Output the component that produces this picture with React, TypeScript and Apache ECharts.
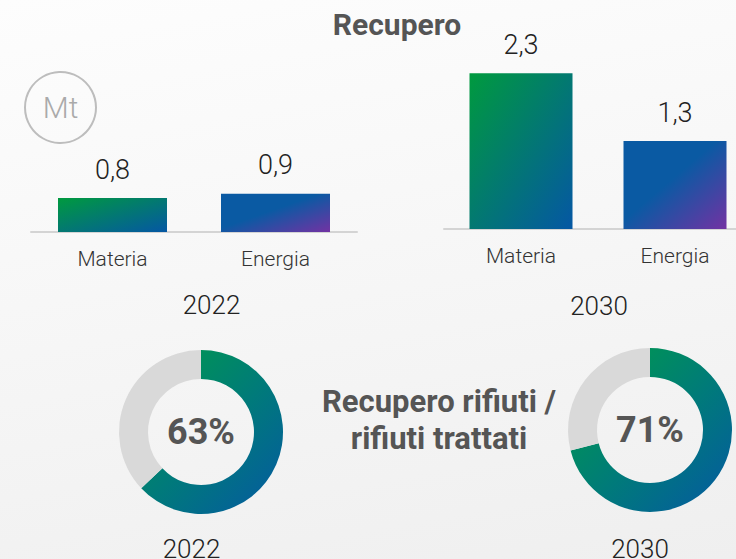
import React, { useEffect, useRef } from "react";
import * as echarts from "echarts";

const categories = ["Materia", "Energia"];
const years = ["2022", "2030"];
const recupero2022 = [0.8, 0.9];
const recupero2030 = [2.3, 1.3];
const ratioPercent = [63, 71];
const titleText = "Recupero";
const ratioTitle = "Recupero rifiuti /\nrifiuti trattati";
const unitText = "Mt";

const FONT = "Roboto, 'Noto Sans', sans-serif";

const materiaGrad = new echarts.graphic.LinearGradient(0, 0, 1, 1, [
  { offset: 0, color: "#009a3e" },
  { offset: 1, color: "#0557a4" },
]);
const energiaGrad = new echarts.graphic.LinearGradient(0, 0, 1, 1, [
  { offset: 0, color: "#0a5aa3" },
  { offset: 0.45, color: "#0a5aa3" },
  { offset: 1, color: "#7232a3" },
]);
const barColors = [materiaGrad, energiaGrad];

function donutGrad(cx: number, cy: number, r: number) {
  return {
    type: "linear",
    x: cx - r,
    y: cy - r,
    x2: cx + r,
    y2: cy + r,
    global: true,
    colorStops: [
      { offset: 0, color: "#00a043" },
      { offset: 0.55, color: "#007a7a" },
      { offset: 1, color: "#0558a3" },
    ],
  };
}

const fmt = (v: number) => String(v).replace(".", ",");

export default function App() {
  const ref = useRef<HTMLDivElement>(null);
  useEffect(() => {
    document.body.style.margin = "0";
    const chart = echarts.init(ref.current!, null, { renderer: "svg" });
    const grids = [
      { left: 31, width: 326, top: 147, height: 85, outerBoundsMode: "none", containLabel: false },
      { left: 444, width: 308, top: 26, height: 203, outerBoundsMode: "none", containLabel: false },
    ];
    const maxes = [2, 3];
    const barWidths = [109, 103];
    const barData = [recupero2022, recupero2030];
    const donutCenters = [
      [201, 432],
      [650, 430],
    ];
    const option: any = {
      animation: false,
      grid: grids,
      xAxis: grids.map((_, i) => ({
        type: "category",
        gridIndex: i,
        data: categories,
        axisLine: { show: true, lineStyle: { color: "#d4d4d4", width: 2 } },
        axisTick: { show: false },
        axisLabel: { color: "#333", fontSize: 21, fontFamily: FONT, fontWeight: 300, margin: 16 },
      })),
      yAxis: grids.map((_, i) => ({
        type: "value",
        gridIndex: i,
        min: 0,
        max: maxes[i],
        show: false,
        splitLine: { show: false },
      })),
      series: [
        ...barData.map((vals, i) => ({
          type: "bar",
          xAxisIndex: i,
          yAxisIndex: i,
          barWidth: barWidths[i],
          data: vals.map((v, j) => ({ value: v, itemStyle: { color: barColors[j] } })),
          label: {
            show: true,
            position: "top",
            distance: 15,
            color: "#222",
            fontSize: 27,
            fontWeight: 300,
            fontFamily: FONT,
            formatter: (p: any) => fmt(p.value),
          },
        })),
        ...ratioPercent.map((pct, i) => ({
          type: "pie",
          center: donutCenters[i],
          radius: [53, 82],
          startAngle: 90,
          clockwise: true,
          silent: true,
          labelLine: { show: false },
          data: [
            {
              value: pct,
              itemStyle: { color: donutGrad(donutCenters[i][0], donutCenters[i][1], 82) },
              label: {
                show: true,
                position: "center",
                formatter: () => pct + "%",
                color: "#555",
                fontSize: 36,
                fontWeight: "bold",
                fontFamily: FONT,
              },
            },
            { value: 100 - pct, itemStyle: { color: "#d9d9d9" }, label: { show: false } },
          ],
        })),
      ],
      graphic: [
        {
          type: "text",
          x: 397,
          y: 24,
          style: {
            text: titleText,
            fill: "#555",
            font: `bold 30px ${FONT}`,
            textAlign: "center",
            textVerticalAlign: "middle",
          },
        },
        {
          type: "circle",
          shape: { cx: 60.5, cy: 107.5, r: 35.5 },
          style: { fill: "none", stroke: "#bdbdbd", lineWidth: 2 },
        },
        {
          type: "text",
          x: 60.5,
          y: 107,
          style: {
            text: unitText,
            fill: "#aaa",
            font: `300 30px ${FONT}`,
            textAlign: "center",
            textVerticalAlign: "middle",
          },
        },
        {
          type: "text",
          x: 439,
          y: 420,
          style: {
            text: ratioTitle,
            fill: "#555",
            font: `bold 31px ${FONT}`,
            lineHeight: 37,
            textAlign: "center",
            textVerticalAlign: "middle",
          },
        },
        ...[
          [211.5, 305, years[0]],
          [599, 306, years[1]],
          [191.5, 549, years[0]],
          [640, 549, years[1]],
        ].map(([x, y, t]) => ({
          type: "text",
          x,
          y,
          style: {
            text: t,
            fill: "#222",
            font: `300 26px ${FONT}`,
            textAlign: "center",
            textVerticalAlign: "middle",
          },
        })),
      ],
    };
    chart.setOption(option);
    return () => chart.dispose();
  }, []);
  return (
    <div
      ref={ref}
      style={{
        position: "fixed",
        left: 0,
        top: 0,
        width: 736,
        height: 559,
        background: "linear-gradient(170deg, #fdfdfd 0%, #f7f7f7 45%, #efefef 100%)",
      }}
    />
  );
}
